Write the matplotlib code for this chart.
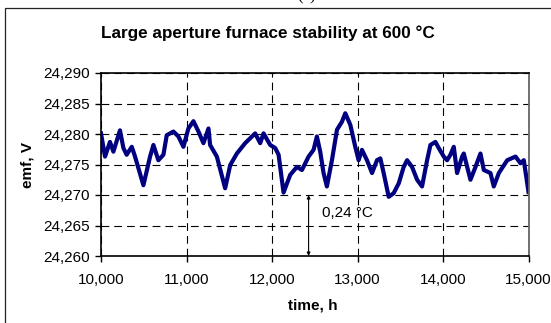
import matplotlib
matplotlib.use("Agg")
import matplotlib.pyplot as plt
from matplotlib.ticker import FuncFormatter, FixedLocator
from matplotlib.patches import Rectangle

plt.rcParams['font.family'] = ['Liberation Sans', 'DejaVu Sans']

time_h = [10000, 10047, 10105, 10145, 10222, 10262, 10300, 10360, 10398, 10496,
          10574, 10613, 10671, 10730, 10769, 10847, 10905, 10964, 11022, 11081,
          11140, 11198, 11257, 11276, 11355, 11452, 11511, 11589, 11686, 11803,
          11862, 11901, 11979, 12038, 12077, 12135, 12213, 12291, 12350, 12428,
          12486, 12525, 12564, 12603, 12642, 12701, 12760, 12818, 12857, 12916,
          12974, 13013, 13052, 13111, 13170, 13228, 13267, 13306, 13365, 13423,
          13482, 13540, 13580, 13638, 13697, 13755, 13814, 13853, 13911, 13950,
          14009, 14048, 14087, 14126, 14165, 14224, 14243, 14321, 14380, 14438,
          14477, 14555, 14594, 14653, 14751, 14848, 14906, 14945, 15000]
emf_v = [24.2801, 24.2763, 24.2787, 24.2771, 24.2806, 24.2777, 24.2766, 24.2779, 24.2763, 24.2716,
         24.2763, 24.2782, 24.2757, 24.2766, 24.2798, 24.2804, 24.2796, 24.2779, 24.2809, 24.2821,
         24.2804, 24.2785, 24.2809, 24.2782, 24.2763, 24.2711, 24.2749, 24.2768, 24.2785, 24.2801,
         24.2785, 24.2801, 24.2782, 24.2777, 24.2766, 24.2704, 24.2733, 24.2746, 24.2741, 24.2763,
         24.2774, 24.2796, 24.2771, 24.2736, 24.2714, 24.2757, 24.2807, 24.2820, 24.2834, 24.2815,
         24.2779, 24.2757, 24.2774, 24.2757, 24.2736, 24.2757, 24.2760, 24.2736, 24.2697, 24.2703,
         24.2719, 24.2746, 24.2757, 24.2746, 24.2725, 24.2714, 24.2757, 24.2782, 24.2787, 24.2777,
         24.2763, 24.2757, 24.2766, 24.2779, 24.2736, 24.2763, 24.2768, 24.2725, 24.2746, 24.2768,
         24.2741, 24.2736, 24.2714, 24.2736, 24.2757, 24.2763, 24.2752, 24.2757, 24.2705]

x_ticks = [10000, 11000, 12000, 13000, 14000, 15000]
y_ticks = [24.260, 24.265, 24.270, 24.275, 24.280, 24.285, 24.290]

title = "Large aperture furnace stability at 600 °C"
xlabel = "time, h"
ylabel = "emf, V"
annot_text = "0,24 °C"
arrow_t = 12428
arrow_lo, arrow_hi = 24.260, 24.270

fig = plt.figure(figsize=(5.51, 3.23), dpi=100)
fig.patch.set_facecolor('white')

# outer chart frame (partially visible)
fig.patches.append(Rectangle((5/551, -0.2), 1.2, 1 - 8/323 + 0.2,
                             transform=fig.transFigure, fill=False,
                             edgecolor='#222222', linewidth=0.9))
fig.text(307/551, 1.0, "(a)", ha='center', va='baseline', fontsize=12,
         family='Liberation Serif')

ax = fig.add_axes([101/551, 1 - 256/323, (528.5 - 101)/551, (256 - 73)/323])
ax.plot(time_h, emf_v, color='#000080', linewidth=3.0, solid_joinstyle='round')

ax.set_xlim(10000, 15000)
ax.set_ylim(24.260, 24.290)
ax.xaxis.set_major_locator(FixedLocator(x_ticks))
ax.yaxis.set_major_locator(FixedLocator(y_ticks))
ax.xaxis.set_major_formatter(FuncFormatter(lambda v, p: f"{v:,.0f}"))
ax.yaxis.set_major_formatter(FuncFormatter(lambda v, p: f"{v:.3f}".replace('.', ',')))
ax.tick_params(axis='both', direction='out', length=4, width=1, labelsize=11, colors='black')
ax.tick_params(axis='x', pad=8)
ax.tick_params(axis='y', pad=4)

ax.grid(True, color='black', linestyle=(0, (7, 4.5)), linewidth=0.8)
ax.set_axisbelow(True)
for s in ['left', 'bottom', 'top']:
    ax.spines[s].set_color('black')
    ax.spines[s].set_linewidth(1.2)
ax.spines['right'].set_color('#666666')
ax.spines['right'].set_linewidth(1.3)

ax.annotate('', xy=(arrow_t, arrow_lo), xytext=(arrow_t, arrow_hi),
            arrowprops=dict(arrowstyle='<|-|>', color='black', lw=0.8,
                            mutation_scale=5, shrinkA=0, shrinkB=0))
ax.text(12585, 24.2670, annot_text, fontsize=11, va='center', ha='left')

fig.text(268/551, 1 - 33/323, title, ha='center', va='center', fontsize=12.3, fontweight='bold')
fig.text(313/551, 1 - 305/323, xlabel, ha='center', va='center', fontsize=11, fontweight='bold')
fig.text(28/551, 1 - 165/323, ylabel, ha='center', va='center', fontsize=11, fontweight='bold', rotation=90)

fig.savefig('out.png', dpi=100, facecolor='white')
